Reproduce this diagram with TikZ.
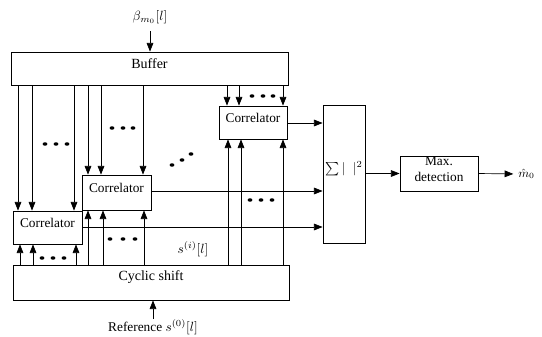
\documentclass[tikz,border=0pt]{standalone}
\usepackage{fontspec}
\setmainfont{Liberation Serif}
\usetikzlibrary{arrows.meta,fit,shapes.geometric}
\begin{document}
\begin{tikzpicture}[x=0.75pt,y=-0.75pt,
  box/.style={draw,line width=0.6pt,inner sep=0pt,align=center,font=\fontsize{10}{11.5}\selectfont},
  arr/.style={line width=0.5pt,-{Triangle[length=6.5pt,width=5pt]}},
  bdot/.style={fill,ellipse,minimum width=3.6pt,minimum height=2.6pt,inner sep=0pt},
  lbl/.style={inner sep=0pt,font=\fontsize{10}{12}\selectfont}]
\useasboundingbox (0,0) rectangle (542,336);
% boxes
\node[box,fit={(11,52)(288,85)}] (buf) {\fontsize{10.5}{12}\selectfont Buffer};
\node[box,fit={(13,265)(289,300)}] (cyc) {\fontsize{10.5}{12}\selectfont Cyclic shift};
\node[box,fit={(13,211)(82,244)}] (cA) {Correlator};
\node[box,fit={(82,175)(151,210)}] (cB) {Correlator};
\node[box,fit={(219,106)(287,139)}] (cC) {Correlator};
\node[box,fit={(323,105)(365,243)}] (sum) {$\textstyle\sum|\;\;|^{2}$};
\node[box,fit={(400,156)(478,191)}] (max) {Max.\\detection};
% labels
\node[lbl] (beta) at (150,17) {$\beta_{m_0}[l]$};
\coordinate (betaa) at (150,31);
\node[lbl] (ref) at (153,327) {Reference $s^{(0)}[l]$};
\coordinate (refa) at (153,319);
\node[lbl] (si) at (193,249) {$s^{(i)}[l]$};
\node[lbl,anchor=west,font=\fontsize{9}{10}\selectfont] (mh) at (518,174) {$\hat{m}_0$};
% inputs
\draw[arr] (betaa) -- (buf.north -| betaa);
\draw[arr] (refa) -- (cyc.south -| refa);
% buffer -> correlator A
\foreach \x in {18,32,74} \draw[arr] (buf.south -| \x,0) -- (cA.north -| \x,0);
% buffer -> correlator B
\foreach \x in {88,101,143} \draw[arr] (buf.south -| \x,0) -- (cB.north -| \x,0);
% buffer -> correlator C
\foreach \x in {227,239,283} \draw[arr] (buf.south -| \x,0) -- (cC.north -| \x,0);
% cyclic shift -> correlators
\foreach \x in {20,33,76} \draw[arr] (cyc.north -| \x,0) -- (cA.south -| \x,0);
\foreach \x in {88,103,144} \draw[arr] (cyc.north -| \x,0) -- (cB.south -| \x,0);
\foreach \x in {228,241,283} \draw[arr] (cyc.north -| \x,0) -- (cC.south -| \x,0);
% outputs
\draw[arr] (cC.east |- 0,123) -- (sum.west |- 0,123);
\draw[arr] (cB.east |- 0,191) -- (sum.west |- 0,191);
\draw[arr] (cA.east |- 0,227) -- (sum.west |- 0,227);
\draw[arr] (sum.east |- max.west) -- (max.west);
\draw[arr,shorten >=3.5pt] (max.east) -- (mh.west);
% dots
\foreach \p in {(45,144),(56,144),(67,144),
                (112,128),(123,128),(133,128),
                (172,165),(182,160),(191,154),
                (252,96),(263,96),(273,96),
                (42,258),(53,258),(64,258),
                (110,239),(123,239),(135,239),
                (250,200),(261,200),(272,200)}
  \node[bdot] at \p {};
\end{tikzpicture}
\end{document}
